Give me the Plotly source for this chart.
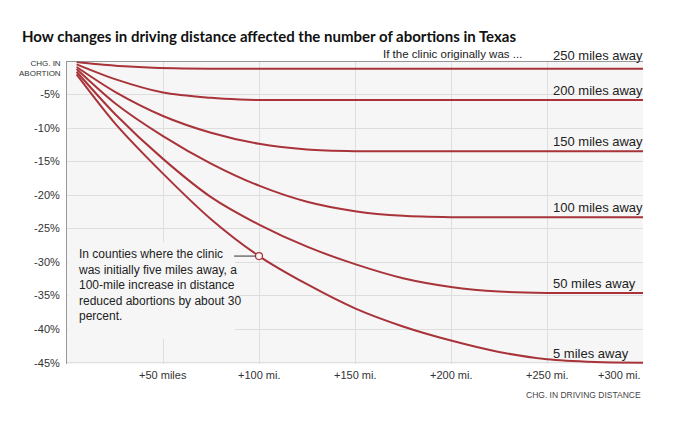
import plotly.graph_objects as go

# ---- data ----
series_names = ["250 miles away", "200 miles away", "150 miles away",
                "100 miles away", "50 miles away", "5 miles away"]

x_250 = [5, 15, 30, 45, 60, 80, 150, 300]
y_250 = [-0.15, -0.45, -0.8, -1.02, -1.12, -1.15, -1.15, -1.15]

x_200 = [5, 25, 50, 75, 90, 100, 200, 300]
y_200 = [-0.5, -2.7, -4.7, -5.5, -5.75, -5.82, -5.82, -5.82]

x_150 = [5, 25, 50, 75, 100, 125, 150, 200, 300]
y_150 = [-0.9, -4.6, -8.2, -10.7, -12.35, -13.2, -13.45, -13.45, -13.45]

x_100 = [5, 25, 50, 75, 100, 125, 150, 175, 200, 250, 300]
y_100 = [-1.2, -6.3, -11.2, -15.3, -18.6, -21.0, -22.4, -23.1, -23.3, -23.3, -23.3]

x_50 = [5, 25, 50, 75, 100, 125, 150, 175, 200, 225, 250, 300]
y_50 = [-1.6, -7.9, -14.6, -20.3, -24.4, -27.7, -30.3, -32.4, -33.7, -34.4, -34.6, -34.6]

x_5 = [5, 25, 50, 75, 100, 125, 150, 175, 200, 225, 250, 275, 300]
y_5 = [-2.0, -9.3, -16.8, -23.6, -29.1, -33.3, -36.9, -39.6, -41.7, -43.4, -44.5, -44.9, -45.0]

y_tick_vals = [-5, -10, -15, -20, -25, -30, -35, -40, -45]
y_tick_text = ["-5%", "-10%", "-15%", "-20%", "-25%", "-30%", "-35%", "-40%", "-45%"]
x_tick_vals = [50, 100, 150, 200, 250, 300]
x_tick_text = ["+50 miles", "+100 mi.", "+150 mi.", "+200 mi.", "+250 mi.", "+300 mi."]

note_x = 100
note_y = -29.1
note_text = ("In counties where the clinic<br>was initially five miles away, a<br>"
             "100-mile increase in distance<br>reduced abortions by about 30<br>percent.")

xs = [x_250, x_200, x_150, x_100, x_50, x_5]
ys = [y_250, y_200, y_150, y_100, y_50, y_5]

RED = "#a8343a"
BG = "#f6f6f6"
GRID = "#dedede"
FONT = "Liberation Sans, Arial, sans-serif"
TITLE_FONT = "Lato, Liberation Sans, Arial, sans-serif"

# page body has an 8px margin: the figure is sized to fill the rest of the window
W, H = 672, 414

fig = go.Figure()
for i, (name, xv, yv) in enumerate(zip(series_names, xs, ys)):
    fig.add_trace(go.Scatter(x=xv, y=yv, mode="lines", name=name,
                             line=dict(color=RED, width=2, shape="spline", smoothing=0.8),
                             hoverinfo="skip"))
    first = i == 0
    fig.add_annotation(x=252, y=0 if first else yv[-1], xref="x", yref="y", text=name,
                       showarrow=False, xanchor="left", yanchor="bottom",
                       yshift=-4 if first else 0,
                       font=dict(family=FONT, size=13, color="#222"))

# annotation marker
fig.add_trace(go.Scatter(x=[note_x], y=[note_y], mode="markers",
                         marker=dict(size=7, color=BG, line=dict(color=RED, width=1.2)),
                         hoverinfo="skip", cliponaxis=False))

# background box behind note (hides gridlines)
fig.add_shape(type="rect", xref="x", yref="y", x0=0.5, x1=87.5, y0=-41.5, y1=-27.0,
              fillcolor=BG, line=dict(width=0), layer="between")
fig.add_shape(type="line", xref="x", yref="y", x0=87, x1=98.2, y0=note_y, y1=note_y,
              line=dict(color="#333", width=1))
fig.add_annotation(x=4.5, y=-27.4, xref="x", yref="y", text=note_text, showarrow=False,
                   xanchor="left", yanchor="top", align="left",
                   font=dict(family=FONT, size=12, color="#222"))

# top line at 0
fig.add_shape(type="line", xref="x", yref="y", x0=0, x1=300, y0=0, y1=0,
              line=dict(color="#777", width=1.3))

# x tick labels
for i, (v, t) in enumerate(zip(x_tick_vals, x_tick_text)):
    last = i == len(x_tick_vals) - 1
    fig.add_annotation(x=v, y=0, xref="x", yref="paper", text=t, showarrow=False,
                       xanchor="right" if last else "center", yanchor="top", yshift=-3,
                       font=dict(family=FONT, size=11, color="#333"))

fig.add_annotation(x=1, y=0, xref="paper", yref="paper", text="CHG. IN DRIVING DISTANCE",
                   showarrow=False, xanchor="right", yanchor="top", yshift=-24,
                   font=dict(family=FONT, size=8.5, color="#444"))
fig.add_annotation(x=0, y=1, xref="paper", yref="paper", text="CHG. IN<br>ABORTION",
                   showarrow=False, xanchor="right", yanchor="top", align="right",
                   xshift=-4, yshift=4,
                   font=dict(family=FONT, size=8, color="#333"))
fig.add_annotation(x=238, y=0, xref="x", yref="y", text="If the clinic originally was ...",
                   showarrow=False, xanchor="right", yanchor="bottom", yshift=-1,
                   font=dict(family=FONT, size=11.5, color="#222"))

fig.update_layout(
    width=W, height=H,
    margin=dict(l=59, r=37, t=53, b=58),
    paper_bgcolor="white", plot_bgcolor=BG,
    showlegend=False,
    title=dict(text="<b>How changes in driving distance affected the number of abortions in Texas</b>",
               x=14 / W, xref="container", xanchor="left",
               y=1 - 29 / H, yref="container", yanchor="middle",
               font=dict(family=TITLE_FONT, size=15, color="#111")),
    xaxis=dict(range=[0, 300], tickvals=x_tick_vals[:-1], showticklabels=False,
               showgrid=True, gridcolor=GRID, gridwidth=1, zeroline=False,
               showline=False, fixedrange=True),
    yaxis=dict(range=[-45.2, 0], tickvals=y_tick_vals, ticktext=y_tick_text,
               showgrid=True, gridcolor=GRID, gridwidth=1, zeroline=False,
               showline=True, linecolor="#999", linewidth=1,
               tickfont=dict(family=FONT, size=11, color="#333"),
               ticks="", ticklabelstandoff=4, fixedrange=True),
)
fig.write_html("out.html")
